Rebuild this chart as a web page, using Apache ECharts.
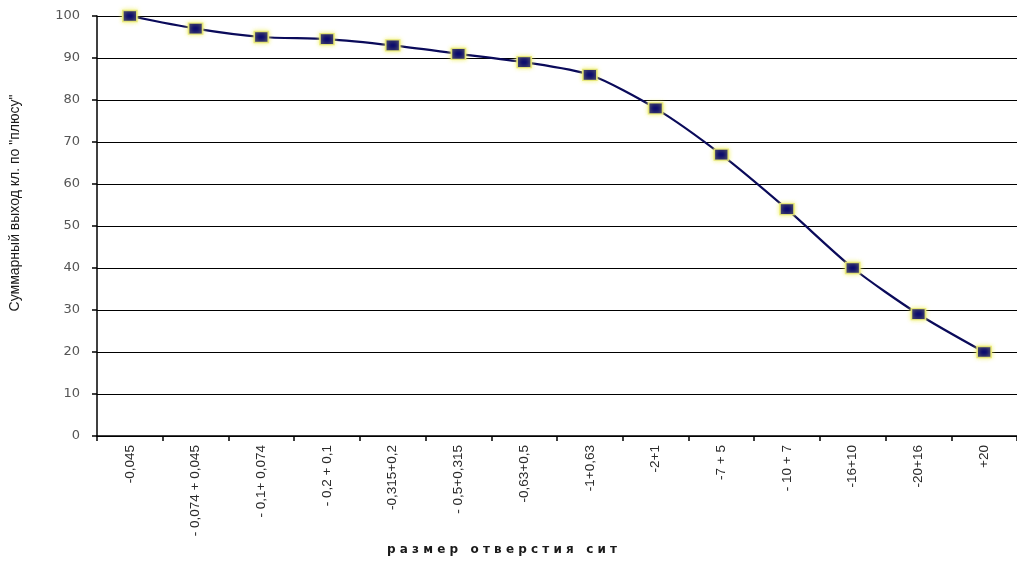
<!DOCTYPE html>
<html>
<head>
<meta charset="utf-8">
<script src="https://cdn.jsdelivr.net/npm/echarts@6/dist/echarts.min.js"></script>
<style>
  html, body { margin: 0; padding: 0; background: #fff; }
  #chart { width: 1017px; height: 562px; }
</style>
</head>
<body>
<div id="chart"></div>
<script>
// Sieve fractions (mm) and cumulative "plus" yield, %
const categories = [
  '-0,045', '- 0,074 + 0,045', '- 0,1+ 0,074', '- 0,2 + 0,1', '-0,315+0,2',
  '- 0,5+0,315', '-0,63+0,5', '-1+0,63', '-2+1', '-7 + 5',
  '- 10 + 7', '-16+10', '-20+16', '+20'
];
const yieldValues = [100, 97, 95, 94.5, 93, 91, 89, 86, 78, 67, 54, 40, 29, 20];
const yTicks = [0, 10, 20, 30, 40, 50, 60, 70, 80, 90, 100];

const sans = '"Liberation Sans", Arial, sans-serif';

const chart = echarts.init(document.getElementById('chart'), null, { renderer: 'canvas' });
chart.setOption({
  animation: false,
  backgroundColor: '#ffffff',
  grid: { left: 97, top: 16, right: 0, bottom: 126, containLabel: false },
  xAxis: {
    type: 'category',
    data: categories,
    boundaryGap: true,
    name: 'р а з м е р   о т в е р с т и я   с и т',
    nameLocation: 'middle',
    nameGap: 108,
    nameTextStyle: {
      fontFamily: '"DejaVu Sans", sans-serif',
      fontSize: 12,
      fontWeight: 'bold',
      color: '#1a1a1a',
      padding: [0, 110, 0, 0]
    },
    axisLine: { lineStyle: { color: '#000', width: 1.5 } },
    axisTick: { show: true, length: 5, lineStyle: { color: '#000', width: 1.5 }, alignWithLabel: false },
    axisLabel: {
      rotate: 90,
      margin: 9,
      interval: 0,
      fontFamily: sans,
      fontSize: 13.5,
      color: '#2a2a2a'
    },
    splitLine: { show: false }
  },
  yAxis: {
    type: 'value',
    min: yTicks[0],
    max: yTicks[yTicks.length - 1],
    interval: 10,
    name: 'Суммарный выход кл. по "плюсу"',
    nameLocation: 'middle',
    nameGap: 75,
    nameRotate: 90,
    nameTextStyle: {
      fontFamily: sans,
      fontSize: 14,
      color: '#1a1a1a',
      padding: [0, 0, 0, 46]
    },
    axisLine: { show: true, lineStyle: { color: '#000', width: 1.5 } },
    axisTick: { show: true, length: 5, lineStyle: { color: '#000', width: 1.5 } },
    axisLabel: {
      margin: 17,
      fontFamily: '"DejaVu Sans", sans-serif',
      fontSize: 13,
      color: '#555'
    },
    splitLine: { show: true, lineStyle: { color: '#000', width: 1 } }
  },
  series: [{
    type: 'line',
    data: yieldValues,
    smooth: 0.25,
    symbol: 'rect',
    symbolSize: [14, 11],
    lineStyle: { color: '#0a0a5a', width: 2.2 },
    itemStyle: {
      color: '#0a0a6e',
      borderColor: 'rgba(235,235,120,0.9)',
      borderWidth: 1.5,
      shadowColor: 'rgba(240,240,90,0.8)',
      shadowBlur: 4
    },
    z: 3
  }]
});
</script>
</body>
</html>
